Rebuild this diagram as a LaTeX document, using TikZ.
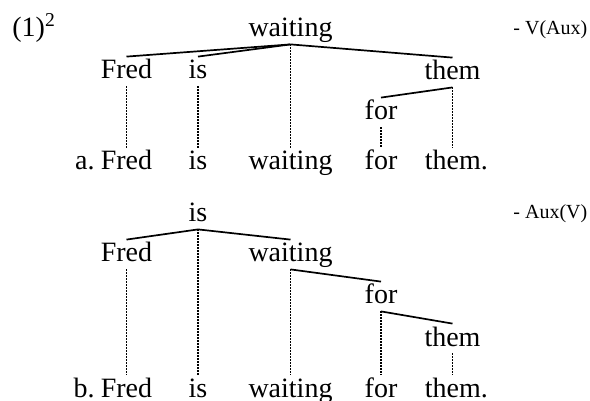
\documentclass[tikz,border=0pt]{standalone}
\usepackage{fontspec}
\setmainfont{Liberation Serif}
\usetikzlibrary{positioning}

\tikzset{
  word/.style={font=\fontsize{14}{16}\selectfont, inner sep=0pt,
    text height=11pt, text depth=3.5pt, anchor=base},
  tag/.style={font=\fontsize{10}{12}\selectfont, inner sep=0pt, anchor=base west},
  branch/.style={line width=0.85pt},
  link/.style={line width=0.75pt, dash pattern=on 0.75pt off 0.75pt},
}

\begin{document}
\begin{tikzpicture}[x=0.5pt, y=-0.5pt]

\newcommand\XFRED{126.5}
\newcommand\XIS{198}
\newcommand\XWAIT{290.5}
\newcommand\XFOR{381}
\newcommand\XTHEM{452.5}

\useasboundingbox (0,0) rectangle (590,401);

%% (a)

\node[word, anchor=base west] (num) at (12,37) {(1)\textsuperscript{2}};
\node[tag] (va) at (513,35) {- V(Aux)};

\node[word] (wA) at (\XWAIT,37) {waiting};
\node[word] (fA) at (\XFRED,79) {Fred};
\node[word] (iA) at (\XIS,79) {is};
\node[word] (tA) at (\XTHEM,80) {them};
\node[word] (oA) at (\XFOR,120) {for};

\node[word] (fAs) at (\XFRED,170) {Fred};
\node[word] (iAs) at (\XIS,170) {is};
\node[word] (wAs) at (\XWAIT,170) {waiting};
\node[word] (oAs) at (\XFOR,170) {for};
\node[word, anchor=base west] (tAs) at (\XTHEM-28,170) {them.};
\node[word, anchor=base east] (la) at (95,170) {a.};

\draw[branch] (wA.south) -- (fA.north);
\draw[branch] (wA.south) -- (iA.north);
\draw[branch] (wA.south) -- (tA.north);
\draw[branch] (tA.south) -- (oA.north);

\draw[link] (fA.south) -- (fAs.north);
\draw[link] (iA.south) -- (iAs.north);
\draw[link] (wA.south) -- (wAs.north);
\draw[link] (oA.south) -- (oAs.north);
\draw[link] (tA.south) -- (tA.south |- tAs.north);

%% (b)

\node[tag] (av) at (513,219) {- Aux(V)};

\node[word] (iB) at (\XIS,222) {is};
\node[word] (fB) at (\XFRED,262) {Fred};
\node[word] (wB) at (\XWAIT,262) {waiting};
\node[word] (oB) at (\XFOR,304) {for};
\node[word] (tB) at (\XTHEM,346) {them};

\node[word] (fBs) at (\XFRED,397) {Fred};
\node[word] (iBs) at (\XIS,397) {is};
\node[word] (wBs) at (\XWAIT,397) {waiting};
\node[word] (oBs) at (\XFOR,397) {for};
\node[word, anchor=base west] (tBs) at (\XTHEM-28,397) {them.};
\node[word, anchor=base east] (lb) at (95,397) {b.};

\draw[branch] (iB.south) -- (fB.north);
\draw[branch] (iB.south) -- (wB.north);
\draw[branch] (wB.south) -- (oB.north);
\draw[branch] (oB.south) -- (tB.north);

\draw[link] (fB.south) -- (fBs.north);
\draw[link] (iB.south) -- (iBs.north);
\draw[link] (wB.south) -- (wBs.north);
\draw[link] (oB.south) -- (oBs.north);
\draw[link] (tB.south) -- (tB.south |- tBs.north);

\end{tikzpicture}
\end{document}
